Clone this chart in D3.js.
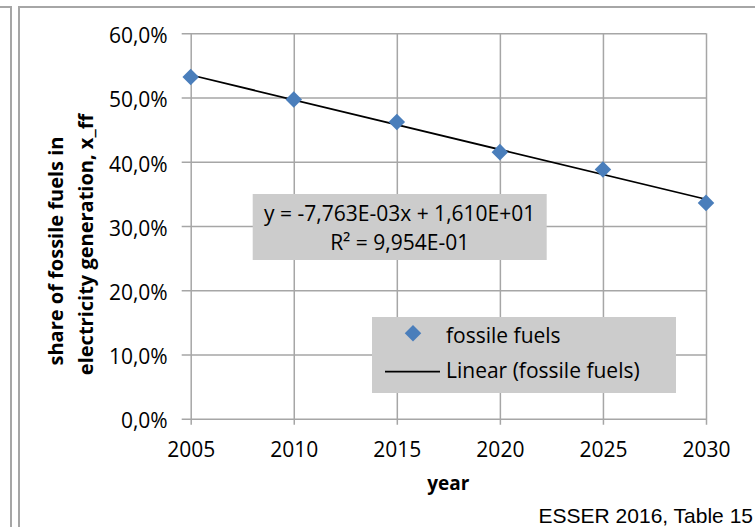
<!DOCTYPE html>
<html>
<head>
<meta charset="utf-8">
<script src="https://cdn.jsdelivr.net/npm/d3@7"></script>
<style>
  body { margin: 0; background: #fff; }
  text { font-family: "Open Sans", "Noto Sans", sans-serif; }
</style>
</head>
<body>
<script>
const years = [2005, 2010, 2015, 2020, 2025, 2030];
const fossilShare = [0.532, 0.497, 0.462, 0.415, 0.388, 0.336];
const yTicks = [0, 0.1, 0.2, 0.3, 0.4, 0.5, 0.6];
const xTicks = [2005, 2010, 2015, 2020, 2025, 2030];
const yTitle = ["share of fossile fuels in", "electricity generation, x_ff"];
const xTitle = "year";
const equationLines = ["y = -7,763E-03x + 1,610E+01", "R² = 9,954E-01"];
const legendLabels = ["fossile fuels", "Linear (fossile fuels)"];
const source = "ESSER 2016, Table 15";

const width = 755, height = 527;
const x0 = 190.7, x1 = 706, yTop = 33.3, yBottom = 418.7;
const gridColor = "#a6a6a6";
const blue = "#4a7ebb";

const locale = d3.formatLocale({ decimal: ",", thousands: ".", grouping: [3], currency: ["", "€"] });
const pct = locale.format(".1%");

const x = d3.scaleLinear().domain([2005, 2030]).range([x0, x1]);
const y = d3.scaleLinear().domain([0, 0.6]).range([yBottom, yTop]);

const svg = d3.select("body").append("svg")
  .attr("width", width)
  .attr("height", height)
  .attr("viewBox", [0, 0, width, height]);

// frames (neighbouring chart + this chart area)
svg.append("rect")
  .attr("x", -20).attr("y", 7).attr("width", 31).attr("height", 600)
  .attr("fill", "none").attr("stroke", gridColor).attr("stroke-width", 2);
svg.append("rect")
  .attr("x", 19).attr("y", 7).attr("width", 800).attr("height", 600)
  .attr("fill", "none").attr("stroke", gridColor).attr("stroke-width", 2);

// y-axis + horizontal grid
svg.append("g")
  .attr("transform", `translate(${x1},0)`)
  .call(d3.axisLeft(y).tickValues(yTicks).tickSize(x1 - x0 + 9).tickPadding(14).tickFormat(pct))
  .attr("font-size", 21)
  .call(g => g.select(".domain").remove())
  .call(g => g.selectAll("line").attr("stroke", gridColor).attr("stroke-width", 1.5))
  .call(g => g.selectAll("text").attr("dy", "0.44em").attr("fill", "#000"));

// x-axis + vertical grid
svg.append("g")
  .attr("transform", `translate(0,${yTop})`)
  .call(d3.axisBottom(x).tickValues(xTicks).tickSize(yBottom - yTop + 6).tickPadding(17).tickFormat(d3.format("d")))
  .attr("font-size", 21)
  .call(g => g.select(".domain").remove())
  .call(g => g.selectAll("line").attr("stroke", gridColor).attr("stroke-width", 1.5))
  .call(g => g.selectAll("text").attr("fill", "#000"));

// linear trendline (least squares over the series)
const mx = d3.mean(years), my = d3.mean(fossilShare);
const slope = d3.sum(years, (v, i) => (v - mx) * (fossilShare[i] - my)) / d3.sum(years, v => (v - mx) ** 2);
const icpt = my - slope * mx;
const trend = d3.extent(years).map(v => [v, icpt + slope * v]);

svg.append("path")
  .datum(trend)
  .attr("fill", "none")
  .attr("stroke", "#000")
  .attr("stroke-width", 1.75)
  .attr("d", d3.line().x(d => x(d[0])).y(d => y(d[1])));

// markers
const diamond = d3.symbol(d3.symbolSquare, 137);
svg.append("g")
  .selectAll("path")
  .data(years)
  .join("path")
  .attr("d", diamond)
  .attr("fill", blue)
  .attr("transform", (d, i) => `translate(${x(d)},${y(fossilShare[i])}) rotate(45)`);

// trendline equation label
const eq = svg.append("g");
eq.append("rect")
  .attr("x", 252.7).attr("y", 194).attr("width", 294).attr("height", 66)
  .attr("fill", "#cccccc");
eq.selectAll("text")
  .data(equationLines)
  .join("text")
  .attr("x", 399.7)
  .attr("y", (d, i) => 220.7 + i * 29.5)
  .attr("text-anchor", "middle")
  .attr("font-size", 21)
  .text(d => d);

// legend
const legend = svg.append("g");
legend.append("rect")
  .attr("x", 372).attr("y", 317).attr("width", 304).attr("height", 76)
  .attr("fill", "#cccccc");
legend.append("path")
  .attr("d", diamond)
  .attr("fill", blue)
  .attr("transform", "translate(413,333.3) rotate(45)");
legend.append("line")
  .attr("x1", 385).attr("x2", 440).attr("y1", 371.7).attr("y2", 371.7)
  .attr("stroke", "#000").attr("stroke-width", 1.75);
legend.selectAll("text")
  .data(legendLabels)
  .join("text")
  .attr("x", 446)
  .attr("y", (d, i) => 343 + i * 35)
  .attr("font-size", 21)
  .text(d => d);

// axis titles
svg.append("g")
  .selectAll("text")
  .data(yTitle)
  .join("text")
  .attr("transform", (d, i) => `translate(${63 + i * 30},${i ? 244.5 : 251}) rotate(-90)`)
  .attr("text-anchor", "middle")
  .attr("font-weight", "bold")
  .attr("font-size", 20)
  .text(d => d);

svg.append("text")
  .attr("x", (x0 + x1) / 2)
  .attr("y", 490)
  .attr("text-anchor", "middle")
  .attr("font-weight", "bold")
  .attr("font-size", 19)
  .text(xTitle);

svg.append("text")
  .attr("x", 753)
  .attr("y", 523)
  .attr("text-anchor", "end")
  .style("font-family", "'Liberation Sans', Arial, sans-serif")
  .attr("font-size", 21)
  .text(source);
</script>
</body>
</html>
